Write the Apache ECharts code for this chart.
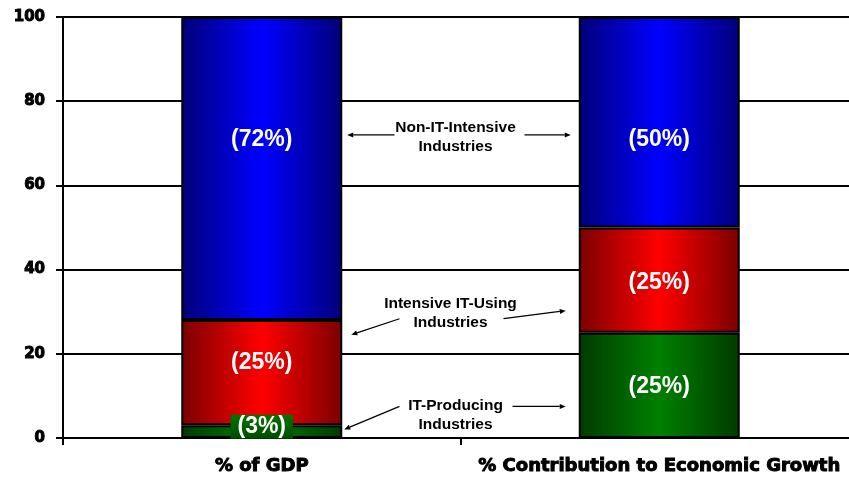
<!DOCTYPE html>
<html>
<head>
<meta charset="utf-8">
<title>IT industries: share of GDP vs contribution to growth</title>
<script src="https://cdn.jsdelivr.net/npm/echarts@6/dist/echarts.min.js"></script>
<style>
  html, body { margin: 0; padding: 0; background: #fff; }
  #chart { width: 849px; height: 480px; }
</style>
</head>
<body>
<div id="chart"></div>
<script>
// Categories on the x axis
const categories = ['% of GDP', '% Contribution to Economic Growth'];

// Stacked shares (percent), bottom to top
const itProducing = [3, 25];
const itUsing = [25, 25];
const nonIT = [72, 50];

// Vertical nudges (px) for the in-bar labels, per column
const producingLabelShift = [-5, 1];
const usingLabelShift = [-10, 3];
const nonITLabelShift = [-29, 17];

// Y axis range and step
const yMin = 0;
const yMax = 100;
const yStep = 20;

// Annotation text between the two columns
const notes = [
  { text: 'Non-IT-Intensive\nIndustries', value: 72 },
  { text: 'Intensive IT-Using\nIndustries', value: 30 },
  { text: 'IT-Producing\nIndustries', value: 7.5 }
];

const BAR_W = 161;

function grad(dark, bright) {
  return new echarts.graphic.LinearGradient(0, 0, 1, 0, [
    { offset: 0, color: dark },
    { offset: 0.5, color: bright },
    { offset: 1, color: dark }
  ]);
}

const labelStyle = {
  show: true,
  position: 'inside',
  color: '#fff',
  fontFamily: 'Liberation Sans, Arial, sans-serif',
  fontWeight: 'bold',
  fontSize: 23,
  formatter: p => '(' + p.value + '%)'
};

function makeSeries(name, values, shifts, dark, bright) {
  return {
    name: name,
    type: 'bar',
    stack: 'total',
    barWidth: BAR_W,
    data: values.map((v, i) => {
      const item = { value: v, label: { offset: [0, shifts[i]] } };
      if (v < 10) {
        // thin slice: label sits on its own green plate
        item.label.padding = [1, 7, 0, 7];
        item.label.backgroundColor = new echarts.graphic.LinearGradient(0, 0, 0, 1, [
          { offset: 0, color: '#007400' },
          { offset: 1, color: '#004c00' }
        ]);
      }
      return item;
    }),
    itemStyle: { color: grad(dark, bright), borderColor: '#000', borderWidth: 2 },
    label: labelStyle,
    z: 3
  };
}

const chart = echarts.init(document.getElementById('chart'));

chart.setOption({
  animation: false,
  backgroundColor: '#fff',
  grid: { left: 63, top: 17, bottom: 42, width: 795, outerBoundsMode: 'none', containLabel: false },
  xAxis: {
    type: 'category',
    data: categories,
    axisLine: { lineStyle: { color: '#000', width: 2 } },
    axisTick: { show: true, interval: 0, length: 7, lineStyle: { color: '#000', width: 2 } },
    axisLabel: {
      interval: 0,
      hideOverlap: false,
      margin: 19,
      color: '#000',
      fontFamily: 'DejaVu Sans, sans-serif',
      fontWeight: 'bold',
      fontSize: 18,
      textBorderColor: '#000',
      textBorderWidth: 1
    }
  },
  yAxis: {
    type: 'value',
    min: yMin,
    max: yMax,
    interval: yStep,
    axisLine: { show: true, lineStyle: { color: '#000', width: 2 } },
    axisTick: { show: true, length: 7, lineStyle: { color: '#000', width: 2 } },
    splitLine: { show: true, lineStyle: { color: '#000', width: 2 } },
    axisLabel: {
      margin: 18,
      color: '#000',
      fontFamily: 'DejaVu Sans, sans-serif',
      fontWeight: 'bold',
      fontSize: 15,
      textBorderColor: '#000',
      textBorderWidth: 1
    }
  },
  series: [
    makeSeries('IT-Producing Industries', itProducing, producingLabelShift, '#003a00', '#008000'),
    makeSeries('Intensive IT-Using Industries', itUsing, usingLabelShift, '#7a0000', '#ff0000'),
    makeSeries('Non-IT-Intensive Industries', nonIT, nonITLabelShift, '#000078', '#0000ff')
  ]
});

// Annotations with arrows pointing at both columns
function arrow(x1, y1, x2, y2) {
  const ang = Math.atan2(y2 - y1, x2 - x1);
  const L = 6, W = 2.5;
  const bx = x2 - L * Math.cos(ang), by = y2 - L * Math.sin(ang);
  const px = -Math.sin(ang) * W, py = Math.cos(ang) * W;
  return [
    { type: 'line', shape: { x1: x1, y1: y1, x2: bx, y2: by }, style: { stroke: '#000', lineWidth: 1.2 }, z: 10 },
    { type: 'polygon', shape: { points: [[x2, y2], [bx + px, by + py], [bx - px, by - py]] }, style: { fill: '#000' }, z: 10 }
  ];
}

const c0 = chart.convertToPixel({ xAxisIndex: 0 }, 0);
const c1 = chart.convertToPixel({ xAxisIndex: 0 }, 1);
const rightEdge0 = c0 + BAR_W / 2;
const leftEdge1 = c1 - BAR_W / 2;
const yPix = v => chart.convertToPixel({ yAxisIndex: 0 }, v);
const mid = (rightEdge0 + leftEdge1) / 2;

const gfx = [];
const textStyle = {
  fontFamily: 'Liberation Sans, Arial, sans-serif',
  fontWeight: 'bold',
  fontSize: 15.5,
  lineHeight: 19,
  fill: '#000',
  align: 'center',
  verticalAlign: 'middle'
};

// Non-IT-Intensive
{
  const y = yPix(notes[0].value);
  gfx.push({ type: 'text', x: mid - 5, y: y + 2, style: Object.assign({ text: notes[0].text }, textStyle), z: 10 });
  gfx.push(...arrow(mid - 66, y, rightEdge0 + 5, y));
  gfx.push(...arrow(mid + 64, y, leftEdge1 - 8, y));
}
// Intensive IT-Using
{
  const y = yPix(notes[1].value);
  gfx.push({ type: 'text', x: mid - 10, y: y + 2, style: Object.assign({ text: notes[1].text, lineHeight: 20 }, textStyle), z: 10 });
  gfx.push(...arrow(mid - 61, y + 7, rightEdge0 + 9, y + 23));
  gfx.push(...arrow(mid + 43, y + 7, leftEdge1 - 13, y - 1));
}
// IT-Producing
{
  const y = yPix(notes[2].value);
  gfx.push({ type: 'text', x: mid - 5, y: y + 9, style: Object.assign({ text: notes[2].text }, textStyle), z: 10 });
  gfx.push(...arrow(mid - 61, y, rightEdge0 + 2, y + 23));
  gfx.push(...arrow(mid + 52, y, leftEdge1 - 13, y));
}

chart.setOption({ graphic: gfx });
</script>
</body>
</html>
